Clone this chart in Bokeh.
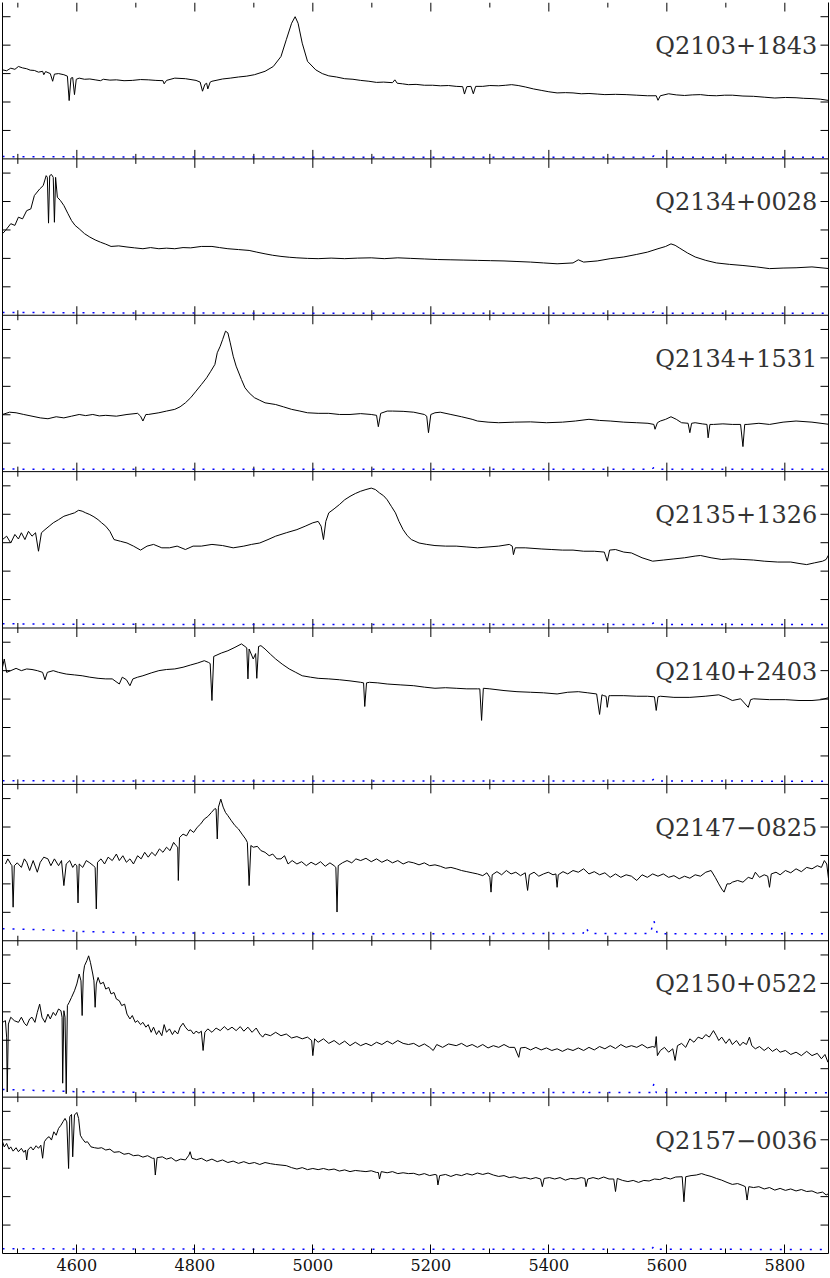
import math
from bokeh.plotting import figure
from bokeh.models import Range1d, LinearAxis, FixedTicker, Label, Span
from bokeh.embed import file_html
from bokeh.resources import INLINE

# ---------------- data (wavelength [A], flux [arbitrary units]) ----------------
NAMES = ["Q2103+1843", "Q2134+0028", "Q2134+1531", "Q2135+1326",
         "Q2140+2403", "Q2147\u22120825", "Q2150+0522", "Q2157\u22120036"]

q2103 = [(4474, 3.13), (4481, 3.10), (4488, 3.19), (4495, 3.15), (4501, 3.25), (4508, 3.20),
         (4515, 3.17), (4521, 3.12), (4528, 3.11), (4535, 3.05), (4542, 3.08),
         (4544, 2.96), (4547, 3.07), (4555, 3.00), (4559, 2.73), (4562, 2.98), (4569, 3.00),
         (4578, 2.96), (4584, 2.91), (4587, 2.05), (4590, 2.84), (4593, 2.86), (4596, 2.26),
         (4599, 2.80), (4604, 2.84), (4613, 2.80), (4622, 2.81), (4631, 2.78), (4640, 2.75),
         (4645, 2.80), (4656, 2.77), (4667, 2.78), (4680, 2.75), (4694, 2.76), (4708, 2.79),
         (4721, 2.78), (4734, 2.76), (4746, 2.75), (4748, 2.64), (4752, 2.76), (4766, 2.84),
         (4784, 2.82), (4802, 2.76), (4809, 2.70), (4813, 2.38), (4817, 2.62), (4820, 2.66),
         (4822, 2.46), (4826, 2.70), (4829, 2.73), (4847, 2.81), (4860, 2.84), (4874, 2.88),
         (4888, 2.91), (4901, 2.96),
         (4919, 3.08), (4933, 3.25), (4946, 3.60), (4955, 4.19), (4964, 4.77), (4970, 5.00),
         (4975, 4.77), (4982, 4.07), (4991, 3.43), (5005, 3.13), (5016, 3.00), (5027, 2.92),
         (5040, 2.88), (5054, 2.82), (5068, 2.80), (5081, 2.76), (5095, 2.73), (5108, 2.69),
         (5120, 2.70), (5135, 2.68), (5139, 2.78), (5143, 2.66), (5152, 2.64), (5162, 2.61),
         (5175, 2.62), (5189, 2.59), (5203, 2.59), (5216, 2.57), (5230, 2.58), (5243, 2.55),
         (5254, 2.54), (5257, 2.28), (5261, 2.54),
         (5268, 2.55), (5272, 2.29), (5276, 2.55), (5288, 2.55), (5300, 2.58), (5315, 2.57),
         (5327, 2.59), (5337, 2.61), (5348, 2.58), (5360, 2.53), (5374, 2.46), (5387, 2.41),
         (5400, 2.36), (5414, 2.32), (5428, 2.33), (5441, 2.32), (5455, 2.29), (5468, 2.30),
         (5482, 2.28), (5495, 2.26), (5513, 2.27),
         (5531, 2.26), (5549, 2.24), (5567, 2.22), (5582, 2.22), (5585, 2.06), (5589, 2.22),
         (5603, 2.29), (5616, 2.25), (5630, 2.23), (5643, 2.25), (5657, 2.26), (5670, 2.23),
         (5684, 2.22), (5698, 2.24), (5711, 2.24), (5729, 2.21), (5747, 2.20), (5765, 2.17),
         (5783, 2.14), (5801, 2.16), (5819, 2.15), (5832, 2.13), (5846, 2.12), (5860, 2.10),
         (5876, 2.05)]

q2134a = [(4474, 2.87), (4479, 2.98), (4488, 3.22), (4495, 3.16), (4501, 3.45), (4508, 3.39),
          (4515, 3.68), (4522, 3.74), (4528, 4.21), (4537, 4.44), (4543, 4.56), (4548, 4.91),
          (4550, 4.85), (4552, 3.24), (4554, 4.91), (4557, 4.95), (4560, 4.85), (4562, 3.27),
          (4564, 4.85), (4567, 4.15), (4572, 4.04), (4578, 3.86), (4585, 3.57), (4591, 3.33),
          (4597, 3.16), (4604, 3.04), (4613, 2.87), (4622, 2.75), (4631, 2.65), (4640, 2.57),
          (4649, 2.50), (4658, 2.42), (4671, 2.44), (4685, 2.40), (4698, 2.37), (4712, 2.34),
          (4725, 2.38), (4739, 2.34), (4752, 2.36), (4766, 2.34), (4780, 2.38), (4793, 2.37),
          (4811, 2.42), (4829, 2.42), (4842, 2.38), (4856, 2.34), (4874, 2.31), (4892, 2.28),
          (4905, 2.22), (4919, 2.16), (4932, 2.11), (4946, 2.07),
          (4960, 2.04), (4973, 2.02), (4991, 2.00), (5009, 1.99), (5031, 2.01), (5054, 1.99),
          (5076, 2.01), (5099, 2.02), (5121, 1.99), (5144, 2.02), (5166, 2.00), (5189, 1.98),
          (5211, 1.96), (5234, 1.95), (5256, 1.94), (5279, 1.93), (5301, 1.92), (5324, 1.91),
          (5346, 1.89), (5369, 1.87), (5391, 1.84), (5414, 1.81), (5441, 1.84),
          (5450, 1.95), (5459, 1.87), (5482, 1.91), (5504, 1.99), (5527, 2.05), (5549, 2.14),
          (5567, 2.22), (5585, 2.34), (5598, 2.42), (5607, 2.51), (5614, 2.46), (5621, 2.37),
          (5635, 2.19), (5648, 2.05), (5666, 1.93), (5684, 1.84), (5706, 1.79), (5729, 1.75),
          (5752, 1.70), (5774, 1.64), (5797, 1.66), (5819, 1.67), (5846, 1.70), (5876, 1.64)]

q2134b = [(4474, 2.01), (4486, 2.09), (4497, 2.07), (4510, 2.01), (4524, 1.95), (4538, 1.89),
          (4551, 1.86), (4565, 1.93), (4578, 1.89), (4591, 1.95), (4604, 2.01), (4615, 1.97),
          (4627, 2.01), (4638, 1.96),
          (4649, 1.98), (4667, 1.95), (4685, 2.01), (4703, 2.05), (4708, 1.95), (4712, 1.78),
          (4717, 2.01), (4721, 2.01), (4739, 2.07), (4752, 2.13), (4766, 2.19), (4775, 2.28),
          (4784, 2.42), (4793, 2.60), (4802, 2.83), (4811, 3.06), (4820, 3.30), (4827, 3.53),
          (4834, 3.77), (4838, 4.18), (4843, 4.41), (4847, 4.64), (4852, 4.94), (4856, 4.88),
          (4860, 4.53), (4865, 4.06), (4870, 3.71), (4879, 3.24), (4885, 2.95), (4892, 2.77),
          (4901, 2.60), (4910, 2.51), (4919, 2.42), (4937, 2.36), (4950, 2.28), (4964, 2.19),
          (4978, 2.13), (4991, 2.07), (5009, 2.05), (5027, 2.05), (5045, 2.01), (5063, 2.01),
          (5081, 2.04), (5099, 2.01), (5108, 1.98), (5111, 1.58), (5115, 2.05), (5126, 2.13),
          (5135, 2.13), (5153, 2.12), (5171, 2.09), (5189, 2.01), (5193, 1.95), (5196, 1.37),
          (5200, 2.01), (5207, 2.07), (5216, 2.09), (5234, 2.01), (5252, 1.93), (5270, 1.84),
          (5279, 1.78), (5297, 1.74), (5315, 1.72), (5342, 1.74), (5369, 1.75), (5396, 1.72),
          (5423, 1.74), (5445, 1.78), (5468, 1.84), (5486, 1.80), (5504, 1.78), (5527, 1.74),
          (5549, 1.72), (5568, 1.70), (5578, 1.66), (5580, 1.49), (5584, 1.72), (5589, 1.78),
          (5598, 1.84), (5607, 1.93), (5616, 1.84), (5625, 1.72), (5636, 1.70), (5639, 1.37),
          (5642, 1.70), (5648, 1.72), (5660, 1.68), (5668, 1.66), (5670, 1.19), (5673, 1.66),
          (5679, 1.66), (5695, 1.68), (5711, 1.66), (5725, 1.66), (5729, 0.88), (5732, 1.66),
          (5736, 1.66), (5756, 1.70), (5774, 1.66), (5797, 1.74), (5819, 1.78), (5846, 1.74),
          (5876, 1.66)]

q2135 = [(4474, 3.11), (4481, 3.23), (4488, 2.99), (4495, 3.29), (4501, 3.13), (4506, 3.35),
         (4512, 3.11), (4518, 3.40), (4524, 3.23), (4530, 3.35), (4535, 2.70), (4540, 3.35),
         (4546, 3.46), (4553, 3.58), (4560, 3.70), (4569, 3.81), (4578, 3.93), (4587, 3.99),
         (4596, 4.05), (4603, 4.14), (4609, 4.11), (4615, 4.05), (4622, 3.99), (4629, 3.91),
         (4636, 3.81), (4642, 3.70), (4649, 3.58), (4656, 3.40), (4663, 3.11), (4674, 3.05),
         (4685, 2.99), (4696, 2.88), (4708, 2.74), (4719, 2.88), (4730, 2.94), (4744, 2.82),
         (4757, 2.82), (4770, 2.88), (4784, 2.76), (4797, 2.88), (4811, 2.88), (4829, 2.94),
         (4847, 2.90), (4865, 2.82), (4883, 2.88), (4896, 2.94), (4910, 2.99), (4924, 3.11),
         (4937, 3.23), (4955, 3.35), (4973, 3.46), (4987, 3.58), (5000, 3.70), (5009, 3.75),
         (5014, 3.58), (5018, 3.11), (5022, 3.75), (5027, 4.05), (5036, 4.19), (5045, 4.34),
         (5054, 4.51), (5063, 4.63), (5072, 4.73), (5081, 4.81), (5090, 4.87), (5099, 4.92),
         (5106, 4.87), (5113, 4.75), (5120, 4.65), (5126, 4.51), (5133, 4.28), (5140, 4.05),
         (5146, 3.75), (5153, 3.46), (5160, 3.25), (5167, 3.11), (5180, 2.99), (5193, 2.94),
         (5207, 2.90), (5225, 2.88), (5243, 2.88), (5261, 2.85), (5279, 2.82), (5297, 2.85),
         (5315, 2.88), (5333, 2.94), (5338, 2.88), (5340, 2.58), (5343, 2.82), (5360, 2.82),
         (5387, 2.78), (5405, 2.76), (5423, 2.74), (5441, 2.74), (5459, 2.70), (5477, 2.70),
         (5494, 2.67), (5499, 2.35), (5503, 2.74), (5513, 2.76), (5527, 2.67), (5540, 2.64),
         (5558, 2.47), (5576, 2.35), (5594, 2.39), (5612, 2.43), (5630, 2.47), (5648, 2.53),
         (5657, 2.55), (5675, 2.47), (5693, 2.41), (5711, 2.43), (5729, 2.41), (5747, 2.39),
         (5765, 2.35), (5788, 2.32), (5810, 2.32), (5824, 2.27), (5837, 2.23), (5850, 2.29),
         (5864, 2.35), (5870, 2.41), (5876, 2.64)]

q2140 = [(4474, 4.12), (4477, 4.41), (4481, 3.94), (4488, 4.00), (4497, 4.08), (4506, 4.00),
         (4515, 4.06), (4524, 4.04), (4533, 4.00), (4542, 3.94), (4546, 3.68), (4550, 3.94),
         (4560, 4.00), (4569, 3.94), (4582, 3.88), (4596, 3.85), (4609, 3.82), (4622, 3.77),
         (4636, 3.73), (4649, 3.71), (4660, 3.71), (4672, 3.53), (4677, 3.77), (4684, 3.68),
         (4690, 3.47), (4695, 3.71), (4703, 3.77), (4712, 3.82), (4726, 3.92), (4739, 4.00),
         (4752, 4.04), (4766, 4.06), (4780, 4.12), (4793, 4.20), (4805, 4.27), (4816, 4.35),
         (4823, 4.29), (4826, 4.25), (4829, 2.95), (4832, 4.50), (4845, 4.62), (4856, 4.70),
         (4868, 4.82), (4879, 4.94), (4885, 4.85), (4888, 4.80), (4890, 3.71), (4892, 4.76),
         (4899, 4.41), (4903, 4.60), (4905, 3.73), (4908, 4.85), (4912, 4.88), (4919, 4.76),
         (4928, 4.58), (4937, 4.41), (4948, 4.23), (4960, 4.06), (4971, 3.94), (4982, 3.82),
         (4996, 3.77), (5009, 3.73), (5027, 3.71), (5045, 3.68), (5063, 3.64), (5081, 3.59),
         (5086, 3.57), (5088, 2.74), (5091, 3.57), (5096, 3.59), (5110, 3.57), (5126, 3.53),
         (5148, 3.50), (5171, 3.47), (5189, 3.42), (5207, 3.38), (5225, 3.40), (5243, 3.38),
         (5261, 3.36), (5279, 3.36), (5283, 3.36), (5286, 2.25), (5289, 3.38), (5300, 3.36),
         (5324, 3.30), (5346, 3.26), (5369, 3.24), (5391, 3.22), (5414, 3.18), (5432, 3.24),
         (5450, 3.26), (5466, 3.22), (5481, 3.18), (5486, 2.46), (5490, 3.15), (5493, 3.12),
         (5497, 3.10), (5499, 2.71), (5502, 3.12), (5504, 3.12), (5527, 3.12), (5549, 3.10),
         (5567, 3.10), (5579, 3.08), (5582, 2.60), (5585, 3.08), (5589, 3.10), (5612, 3.06),
         (5639, 3.06), (5665, 3.10), (5688, 3.15), (5700, 3.06), (5711, 2.95), (5725, 3.01),
         (5738, 2.71), (5742, 2.98), (5747, 3.01), (5774, 2.98), (5801, 2.98), (5824, 2.95),
         (5846, 2.95), (5862, 2.98), (5876, 3.06)]

q2147 = [(4479, 2.70), (4483, 2.88), (4488, 2.70), (4490, 2.64), (4492, 1.18), (4494, 2.64),
         (4499, 2.74), (4506, 2.58), (4511, 2.88), (4515, 2.76), (4520, 2.47), (4526, 2.82),
         (4533, 2.41), (4538, 2.76), (4544, 2.94), (4551, 2.88), (4556, 2.64), (4562, 2.88),
         (4569, 2.64), (4574, 2.82), (4578, 1.94), (4582, 2.70), (4588, 2.82), (4593, 2.58),
         (4597, 2.70), (4600, 2.64), (4602, 1.33), (4604, 2.70), (4610, 2.58), (4616, 2.82),
         (4622, 2.74), (4628, 2.64), (4631, 2.58), (4633, 1.12), (4635, 2.76), (4641, 2.88),
         (4647, 2.70), (4653, 2.94), (4660, 2.82), (4667, 3.05), (4672, 2.82), (4678, 2.99),
         (4684, 2.76), (4690, 2.88), (4696, 2.70), (4703, 2.99), (4709, 2.88), (4715, 3.11),
         (4721, 2.94), (4727, 3.11), (4733, 2.99), (4740, 3.23), (4746, 3.11), (4752, 3.29),
         (4758, 3.17), (4764, 3.46), (4768, 3.35), (4771, 3.29), (4772, 2.12), (4774, 3.63),
         (4780, 3.75), (4786, 3.69), (4792, 3.91), (4798, 3.81), (4804, 3.99), (4810, 4.11),
         (4816, 4.28), (4822, 4.37), (4828, 4.51), (4834, 4.65), (4836, 4.63), (4838, 3.58),
         (4840, 4.70), (4844, 4.98), (4848, 4.70), (4852, 4.51), (4856, 4.40), (4862, 4.22),
         (4868, 4.05), (4874, 3.93), (4880, 3.75), (4886, 3.58), (4889, 3.46), (4892, 1.94),
         (4895, 3.35), (4899, 3.29), (4906, 3.32), (4912, 3.17), (4919, 3.11), (4926, 2.99),
         (4932, 3.05), (4939, 2.88), (4946, 2.88), (4952, 2.99), (4958, 2.70), (4965, 2.82),
         (4973, 2.70), (4981, 2.78), (4989, 2.64), (4997, 2.76), (5005, 2.67), (5013, 2.78),
         (5021, 2.62), (5029, 2.74), (5036, 2.64), (5039, 2.58), (5041, 1.01), (5043, 2.64),
         (5050, 2.74), (5058, 2.82), (5066, 2.74), (5073, 2.88), (5081, 2.82), (5090, 2.90),
         (5099, 2.78), (5108, 2.88), (5117, 2.76), (5126, 2.85), (5135, 2.74), (5144, 2.82),
         (5153, 2.70), (5162, 2.78), (5171, 2.74), (5180, 2.67), (5189, 2.74), (5198, 2.64),
         (5207, 2.67), (5216, 2.62), (5225, 2.55), (5234, 2.58), (5243, 2.53), (5252, 2.47),
         (5261, 2.43), (5270, 2.39), (5279, 2.35), (5288, 2.29), (5295, 2.39), (5300, 2.23),
         (5302, 1.71), (5304, 2.32), (5312, 2.43), (5320, 2.32), (5328, 2.47), (5336, 2.35),
         (5344, 2.41), (5352, 2.29), (5360, 2.39), (5364, 1.77), (5367, 2.32), (5375, 2.41),
         (5383, 2.27), (5391, 2.35), (5399, 2.41), (5407, 2.32), (5412, 2.35), (5414, 1.88),
         (5416, 2.32), (5424, 2.43), (5432, 2.35), (5441, 2.47), (5450, 2.41), (5459, 2.53),
         (5468, 2.35), (5477, 2.43), (5486, 2.32), (5495, 2.39), (5504, 2.23), (5513, 2.35),
         (5522, 2.23), (5531, 2.32), (5540, 2.27), (5549, 2.12), (5558, 2.32), (5567, 2.23),
         (5576, 2.35), (5585, 2.27), (5594, 2.35), (5603, 2.23), (5612, 2.29), (5621, 2.18),
         (5630, 2.27), (5639, 2.20), (5648, 2.32), (5657, 2.27), (5666, 2.41), (5675, 2.47),
         (5682, 2.23), (5688, 2.00), (5693, 1.82), (5697, 1.71), (5702, 2.00), (5707, 2.00),
         (5711, 2.06), (5720, 2.12), (5729, 2.06), (5738, 2.23), (5745, 2.18), (5750, 2.41),
         (5757, 2.23), (5765, 2.32), (5771, 2.27), (5774, 1.88), (5777, 2.35), (5785, 2.41),
         (5792, 2.32), (5801, 2.47), (5810, 2.39), (5819, 2.53), (5828, 2.43), (5837, 2.58),
         (5846, 2.53), (5855, 2.64), (5862, 2.58), (5867, 2.82), (5871, 2.70), (5874, 2.18),
         (5876, 2.58)]

q2150 = [(4474, 2.63), (4479, 2.69), (4481, 2.11), (4482, 0.18), (4484, 2.57), (4488, 2.81),
         (4494, 2.69), (4501, 2.63), (4506, 2.81), (4511, 2.60), (4515, 2.51), (4520, 2.75),
         (4524, 2.81), (4529, 2.63), (4533, 2.98), (4537, 3.27), (4541, 2.81), (4546, 2.63),
         (4551, 2.92), (4555, 2.75), (4560, 2.98), (4564, 2.87), (4569, 3.10), (4573, 3.04),
         (4575, 2.81), (4576, 0.49), (4578, 3.04), (4580, 2.81), (4582, 0.12), (4584, 3.22),
         (4587, 3.33), (4591, 3.51), (4596, 3.74), (4600, 3.98), (4604, 4.33), (4607, 4.09),
         (4609, 2.87), (4611, 4.33), (4613, 4.62), (4617, 4.80), (4620, 4.97), (4623, 4.74),
         (4627, 4.33), (4629, 4.09), (4631, 3.16), (4633, 3.98), (4636, 4.21), (4640, 3.98),
         (4645, 4.04), (4649, 3.80), (4654, 3.86), (4658, 3.63), (4663, 3.68), (4667, 3.45),
         (4672, 3.39), (4676, 3.22), (4681, 3.27), (4685, 2.92), (4690, 2.75), (4694, 2.87),
         (4699, 2.63), (4703, 2.69), (4708, 2.55), (4712, 2.63), (4717, 2.46), (4721, 2.55),
         (4726, 2.28), (4730, 2.46), (4735, 2.20), (4739, 2.34), (4744, 2.16), (4748, 2.55),
         (4752, 2.28), (4757, 2.40), (4762, 2.20), (4766, 2.34), (4771, 2.22), (4775, 2.46),
         (4780, 2.60), (4784, 2.46), (4789, 2.34), (4793, 2.36), (4798, 2.22), (4802, 2.32),
         (4807, 2.25), (4811, 2.32), (4814, 1.64), (4817, 2.28), (4822, 2.40), (4829, 2.28),
         (4836, 2.43), (4843, 2.34), (4850, 2.48), (4856, 2.36), (4863, 2.46), (4870, 2.34),
         (4877, 2.48), (4883, 2.32), (4890, 2.46), (4897, 2.28), (4904, 2.43), (4910, 2.22),
         (4915, 2.11), (4919, 2.22), (4928, 2.16), (4937, 2.28), (4946, 2.16), (4955, 2.22),
         (4964, 2.08), (4973, 2.13), (4982, 2.05), (4991, 2.11), (4998, 1.99), (5000, 1.46),
         (5003, 2.05), (5009, 1.93), (5018, 2.05), (5027, 1.89), (5036, 1.99), (5045, 1.85),
         (5054, 1.97), (5063, 1.81), (5072, 1.93), (5081, 1.81), (5090, 1.89), (5099, 1.81),
         (5108, 1.93), (5117, 1.85), (5126, 1.97), (5135, 1.87), (5144, 1.99), (5153, 1.89),
         (5162, 1.85), (5171, 1.89), (5180, 1.78), (5189, 1.87), (5198, 1.75), (5204, 1.64),
         (5210, 1.85), (5220, 1.75), (5230, 1.87), (5243, 1.81), (5252, 1.89), (5261, 1.78),
         (5270, 1.85), (5279, 1.75), (5288, 1.85), (5297, 1.73), (5306, 1.81), (5315, 1.75),
         (5324, 1.85), (5333, 1.75), (5342, 1.75), (5349, 1.40), (5352, 1.73), (5360, 1.75),
         (5369, 1.66), (5378, 1.75), (5387, 1.66), (5396, 1.73), (5405, 1.64), (5414, 1.70),
         (5423, 1.61), (5432, 1.70), (5441, 1.64), (5450, 1.73), (5459, 1.64), (5468, 1.75),
         (5477, 1.66), (5486, 1.78), (5495, 1.70), (5504, 1.81), (5513, 1.71), (5522, 1.85),
         (5531, 1.75), (5540, 1.81), (5549, 1.75), (5558, 1.85), (5567, 1.73), (5576, 1.78),
         (5580, 1.75), (5582, 2.13), (5584, 1.46), (5589, 1.64), (5596, 1.75), (5603, 1.58),
         (5610, 1.70), (5614, 1.29), (5618, 1.81), (5625, 1.89), (5632, 1.75), (5639, 2.05),
         (5646, 1.93), (5653, 2.11), (5660, 2.05), (5666, 2.20), (5672, 2.11), (5679, 2.34),
         (5684, 2.16), (5688, 1.99), (5693, 2.11), (5700, 1.89), (5706, 2.05), (5711, 1.85),
         (5718, 1.99), (5724, 1.81), (5729, 1.93), (5735, 1.85), (5740, 2.11), (5744, 1.81),
         (5750, 1.70), (5757, 1.78), (5765, 1.64), (5772, 1.75), (5779, 1.61), (5786, 1.70),
         (5792, 1.58), (5801, 1.64), (5810, 1.50), (5819, 1.58), (5828, 1.46), (5837, 1.61),
         (5846, 1.46), (5855, 1.54), (5862, 1.35), (5868, 1.50), (5873, 1.23), (5876, 1.40)]

q2157 = [(4474, 3.93), (4477, 3.75), (4481, 3.87), (4485, 3.67), (4488, 3.75), (4492, 3.60),
         (4497, 3.72), (4501, 3.58), (4506, 3.70), (4510, 3.56), (4513, 3.64), (4515, 3.29),
         (4517, 3.64), (4522, 3.75), (4526, 3.64), (4531, 3.79), (4535, 3.70), (4539, 3.81),
         (4542, 3.35), (4545, 3.93), (4549, 4.05), (4553, 4.11), (4557, 3.99), (4561, 4.28),
         (4565, 4.16), (4569, 4.40), (4573, 4.51), (4577, 4.65), (4580, 4.75), (4583, 4.63),
         (4586, 2.99), (4588, 4.81), (4591, 4.89), (4593, 3.40), (4596, 4.87), (4600, 4.96),
         (4603, 4.75), (4606, 4.16), (4609, 4.05), (4614, 3.91), (4618, 3.93), (4624, 3.75),
         (4630, 3.72), (4636, 3.70), (4642, 3.72), (4649, 3.64), (4656, 3.67), (4663, 3.56),
         (4672, 3.58), (4680, 3.49), (4688, 3.52), (4696, 3.44), (4704, 3.46), (4712, 3.39),
         (4720, 3.44), (4728, 3.35), (4731, 3.35), (4733, 2.76), (4736, 3.37), (4745, 3.40),
         (4752, 3.32), (4760, 3.37), (4768, 3.25), (4776, 3.32), (4784, 3.29), (4790, 3.46),
         (4792, 3.58), (4795, 3.35), (4803, 3.30), (4811, 3.35), (4820, 3.25), (4829, 3.32),
         (4838, 3.23), (4847, 3.29), (4856, 3.20), (4865, 3.25), (4874, 3.17), (4883, 3.23),
         (4892, 3.16), (4901, 3.20), (4910, 3.13), (4919, 3.20), (4928, 3.16), (4937, 3.13),
         (4946, 3.11), (4955, 3.09), (4964, 3.02), (4973, 2.97), (4982, 3.02), (4991, 2.95),
         (5000, 2.99), (5009, 2.95), (5018, 2.99), (5027, 2.94), (5036, 2.97), (5045, 2.90),
         (5054, 2.94), (5063, 2.88), (5072, 2.92), (5081, 2.90), (5090, 2.88), (5099, 2.91),
         (5108, 2.85), (5111, 2.85), (5113, 2.62), (5116, 2.88), (5126, 2.84), (5135, 2.88),
         (5144, 2.81), (5153, 2.84), (5162, 2.81), (5171, 2.82), (5180, 2.76), (5189, 2.81),
         (5198, 2.74), (5207, 2.78), (5210, 2.76), (5212, 2.41), (5215, 2.74), (5225, 2.78),
         (5234, 2.71), (5243, 2.78), (5252, 2.74), (5261, 2.81), (5270, 2.76), (5279, 2.83),
         (5288, 2.78), (5297, 2.83), (5306, 2.76), (5315, 2.71), (5324, 2.74), (5333, 2.67),
         (5342, 2.70), (5351, 2.64), (5360, 2.67), (5369, 2.62), (5378, 2.67), (5386, 2.62),
         (5389, 2.35), (5392, 2.64), (5401, 2.67), (5410, 2.62), (5419, 2.67), (5428, 2.58),
         (5437, 2.64), (5446, 2.62), (5455, 2.67), (5461, 2.64), (5463, 2.35), (5466, 2.62),
         (5475, 2.67), (5484, 2.62), (5493, 2.69), (5502, 2.62), (5510, 2.62), (5513, 2.18),
         (5516, 2.64), (5525, 2.57), (5534, 2.53), (5543, 2.57), (5552, 2.50), (5561, 2.57),
         (5570, 2.55), (5579, 2.62), (5588, 2.60), (5597, 2.67), (5606, 2.62), (5615, 2.69),
         (5626, 2.70), (5629, 1.82), (5632, 2.70), (5641, 2.74), (5650, 2.76), (5659, 2.81),
         (5666, 2.76), (5675, 2.71), (5684, 2.64), (5693, 2.58), (5702, 2.50), (5711, 2.43),
         (5720, 2.46), (5729, 2.39), (5733, 2.35), (5736, 1.88), (5739, 2.35), (5747, 2.32),
         (5756, 2.35), (5765, 2.27), (5774, 2.32), (5783, 2.23), (5792, 2.29), (5801, 2.22),
         (5810, 2.27), (5819, 2.20), (5828, 2.25), (5837, 2.18), (5846, 2.20), (5855, 2.12),
         (5864, 2.16), (5870, 2.06), (5876, 2.12)]

# error spectra (blue dotted)
e2103 = [(4474, 0.08), (4600, 0.07), (5000, 0.06), (5574, 0.06), (5578, 0.10), (5582, 0.06), (5876, 0.06)]
e2134a = [(4474, 0.10), (4600, 0.09), (4700, 0.08), (5000, 0.07), (5574, 0.07), (5578, 0.12), (5582, 0.07), (5876, 0.07)]
e2134b = [(4474, 0.09), (4600, 0.08), (5000, 0.08), (5574, 0.08), (5578, 0.14), (5582, 0.08), (5876, 0.08)]
e2135 = [(4474, 0.15), (4600, 0.13), (5000, 0.12), (5574, 0.12), (5578, 0.19), (5582, 0.12), (5876, 0.12)]
e2140 = [(4474, 0.13), (4600, 0.12), (5000, 0.12), (5574, 0.12), (5578, 0.19), (5582, 0.12), (5876, 0.11)]
e2147 = [(4474, 0.42), (4550, 0.38), (4620, 0.32), (4700, 0.28), (4800, 0.27), (5000, 0.25),
         (5290, 0.25), (5458, 0.26), (5463, 0.48), (5468, 0.26), (5572, 0.25), (5578, 0.71),
         (5584, 0.25), (5683, 0.25), (5688, 0.38), (5693, 0.25), (5876, 0.25)]
e2150 = [(4474, 0.27), (4600, 0.19), (4800, 0.16), (5000, 0.15), (5458, 0.16), (5463, 0.30),
         (5468, 0.16), (5574, 0.16), (5578, 0.47), (5582, 0.16), (5876, 0.15)]
e2157 = [(4474, 0.17), (4600, 0.16), (5000, 0.15), (5574, 0.15), (5578, 0.25), (5582, 0.15), (5876, 0.14)]

SPECTRA = [q2103, q2134a, q2134b, q2135, q2140, q2147, q2150, q2157]
ERRORS = [e2103, e2134a, e2134b, e2135, e2140, e2147, e2150, e2157]

X_MAJOR = [4600, 4800, 5000, 5200, 5400, 5600, 5800]
X_MINOR = [4500, 4700, 4900, 5100, 5300, 5500, 5700]
Y_TICKS = [1, 2, 3, 4, 5]

# ---------------- layout ----------------
PANEL = 5.5          # flux span of one panel
N = len(SPECTRA)
X0, X1 = 4474.0, 5874.0
YTOP = N * PANEL

p = figure(frame_width=826, frame_height=1251,
           x_range=Range1d(X0, X1), y_range=Range1d(0, YTOP),
           x_axis_type=None, y_axis_type=None,
           toolbar_location=None, output_backend="svg",
           min_border_left=2, min_border_right=1, min_border_top=2, min_border_bottom=0)
p.outline_line_color = None
p.background_fill_color = "white"
p.border_fill_color = "white"

no_ticks = FixedTicker(ticks=[], minor_ticks=[])
xt = FixedTicker(ticks=X_MAJOR, minor_ticks=X_MINOR)

bottom = LinearAxis(ticker=xt, major_tick_in=9, major_tick_out=0, minor_tick_in=5, minor_tick_out=0,
                    axis_line_color="black", major_tick_line_color="black", minor_tick_line_color="black",
                    major_label_text_font="DejaVu Serif", major_label_text_font_size="16px",
                    major_label_text_color="#111111", major_label_standoff=5)
left = LinearAxis(ticker=no_ticks, axis_line_color="black", major_tick_in=0, major_tick_out=0,
                  minor_tick_in=0, minor_tick_out=0)
right = LinearAxis(ticker=no_ticks, axis_line_color="black", major_tick_in=0, major_tick_out=0,
                   minor_tick_in=0, minor_tick_out=0)
p.add_layout(bottom, "below")
p.add_layout(left, "left")
p.add_layout(right, "right")

# inward ticks on the left and right edges of every panel
yt_all = [(N - 1 - k) * PANEL + t for k in range(N) for t in Y_TICKS]
p.ray(x=[X0] * len(yt_all), y=yt_all, length=8, length_units="screen", angle=0,
      line_color="black", line_width=1)
p.ray(x=[X1] * len(yt_all), y=yt_all, length=8, length_units="screen", angle=math.pi,
      line_color="black", line_width=1)

# top edge ticks (pointing down)
for ticks, ln in ((X_MAJOR, 9), (X_MINOR, 5)):
    p.ray(x=ticks, y=[YTOP] * len(ticks), length=ln, length_units="screen",
          angle=-math.pi / 2, line_color="black", line_width=1)

# internal panel boundaries with inward ticks on both sides
for k in range(1, N):
    yb = k * PANEL
    p.add_layout(Span(location=yb, dimension="width", line_color="black", line_width=1))
    for ticks, ln in ((X_MAJOR, 9), (X_MINOR, 5)):
        p.ray(x=ticks, y=[yb] * len(ticks), length=ln, length_units="screen",
              angle=math.pi / 2, line_color="black", line_width=1)
        p.ray(x=ticks, y=[yb] * len(ticks), length=ln, length_units="screen",
              angle=-math.pi / 2, line_color="black", line_width=1)

for k, (spec, err, name) in enumerate(zip(SPECTRA, ERRORS, NAMES)):
    base = (N - 1 - k) * PANEL
    wl = [w for w, _ in spec]
    fx = [f + base for _, f in spec]
    ew = [w for w, _ in err]
    ef = [e + base for _, e in err]
    p.line(ew, ef, line_color="#0000ff", line_width=1.5, line_dash="2 8")
    p.line(wl, fx, line_color="black", line_width=1)
    p.add_layout(Label(x=5855, y=base + 3.97, text=name, text_align="right",
                       text_baseline="alphabetic", text_font="DejaVu Serif",
                       text_font_size="24px", text_color="#333333"))

open("out.html", "w").write(file_html(p, INLINE))
